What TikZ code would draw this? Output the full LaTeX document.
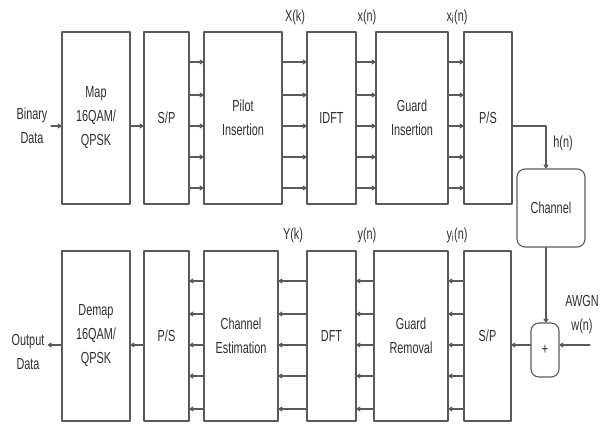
\documentclass[tikz,border=0pt]{standalone}
\usepackage{fontspec}
\setmainfont[FakeStretch=0.68]{Liberation Sans}
\usetikzlibrary{arrows.meta,calc,positioning}
\definecolor{LineGray}{HTML}{5A5A5A}
\definecolor{TextGray}{HTML}{2E2E2E}

\begin{document}
\begin{tikzpicture}[x=1pt,y=-1pt,line cap=round,line join=round,
  font=\fontsize{16}{24}\selectfont,text=TextGray,
  arr/.style={draw=LineGray,line width=1.1pt,-{To[length=4pt,width=5pt]}},
  blk/.style={draw=LineGray,line width=1.1pt,align=center,inner sep=0pt,minimum height=172pt},
  blkb/.style={blk,minimum height=170pt},
  rblk/.style={draw=LineGray,line width=1.1pt,rounded corners=8pt,align=center,inner sep=0pt}]
  \useasboundingbox (0,0) rectangle (605,425);
  % transmitter
  \node[align=center] (bin) at (32,126) {Binary\\Data};
  \node[blk,minimum width=68pt] (map) at (96,118) {Map\\16QAM/\\QPSK};
  \node[blk,minimum width=45pt] (sp) at (166.5,118) {S/P};
  \node[blk,minimum width=78pt] (pilot) at (243,118) {Pilot\\Insertion};
  \node[blk,minimum width=49pt] (idft) at (331.5,118) {IDFT};
  \node[blk,minimum width=72pt] (gins) at (412,118) {Guard\\Insertion};
  \node[blk,minimum width=48pt] (ps) at (488,118) {P/S};
  \node[rblk,minimum width=68pt,minimum height=78pt] (chan) at (551,208) {Channel};
  % receiver
  \node[rblk,minimum width=28pt,minimum height=54pt] (plus) at (545,350) {+};
  \node[blkb,minimum width=47pt] (spr) at (487.5,336) {S/P};
  \node[blkb,minimum width=74pt] (grem) at (411,336) {Guard\\Removal};
  \node[blkb,minimum width=49pt] (dft) at (331.5,336) {DFT};
  \node[blkb,minimum width=74pt] (cest) at (241,336) {Channel\\Estimation};
  \node[blkb,minimum width=45pt] (psr) at (166.5,336) {P/S};
  \node[blkb,minimum width=68pt] (demap) at (96,336) {Demap\\16QAM/\\QPSK};
  \node[align=center] (out) at (28,352) {Output\\Data};
  \node[align=center] (awgn) at (582,315) {AWGN\\w(n)};
  % signal labels
  \node (Xk) at (295,17) {X(k)};
  \node (xn) at (367,17) {x(n)};
  \node (xin) at (457,17) {x\textsubscript{i}(n)};
  \node (Yk) at (293,235) {Y(k)};
  \node (yn) at (367,235) {y(n)};
  \node (yin) at (457,235) {y\textsubscript{i}(n)};
  \node (hn) at (563,143) {h(n)};
  \coordinate (bend) at (546,126);
  \coordinate (noise) at (590,345);
  % connectors
  \draw[arr] (bin.east |- 0,126) -- (map.west |- 0,126);
  \draw[arr] (map.east |- 0,126) -- (sp.west |- 0,126);
  \foreach \y in {62,95,126,157,188}{
    \draw[arr] (sp.east |- 0,\y) -- (pilot.west |- 0,\y);
    \draw[arr] (pilot.east |- 0,\y) -- (idft.west |- 0,\y);
    \draw[arr] (idft.east |- 0,\y) -- (gins.west |- 0,\y);
    \draw[arr] (gins.east |- 0,\y) -- (ps.west |- 0,\y);
  }
  \draw[arr] (ps.east |- bend) -- (bend) -- (bend |- chan.north);
  \draw[arr] (bend |- chan.south) -- (bend |- plus.north);
  \draw[arr] (noise) -- (plus.east |- noise);
  \draw[arr] (plus.west |- noise) -- (spr.east |- noise);
  \foreach \y in {281,314,345,376,409}{
    \draw[arr] (spr.west |- 0,\y) -- (grem.east |- 0,\y);
    \draw[arr] (grem.west |- 0,\y) -- (dft.east |- 0,\y);
    \draw[arr] (dft.west |- 0,\y) -- (cest.east |- 0,\y);
    \draw[arr] (cest.west |- 0,\y) -- (psr.east |- 0,\y);
  }
  \draw[arr] (psr.west |- 0,345) -- (demap.east |- 0,345);
  \draw[arr] (demap.west |- 0,345) -- (out.east |- 0,345);
\end{tikzpicture}
\end{document}
